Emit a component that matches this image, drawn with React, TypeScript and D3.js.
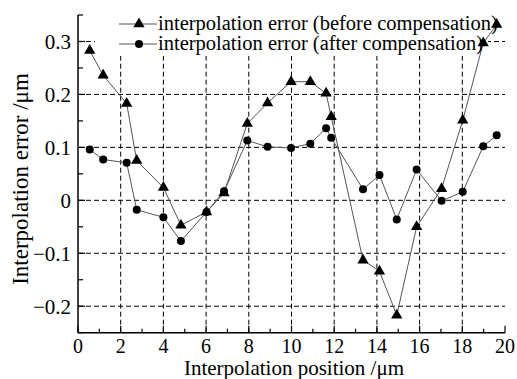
import React from "react";
import * as d3 from "d3";

const positions = [0.55, 1.18, 2.28, 2.75, 4.0, 4.82, 6.02, 6.84, 7.93, 8.88, 9.98, 10.88, 11.62, 11.86, 13.35, 14.12, 14.93, 15.86, 17.03, 18.02, 18.98, 19.61];
const beforeComp = [0.283, 0.236, 0.183, 0.075, 0.024, -0.047, -0.022, 0.014, 0.145, 0.184, 0.224, 0.224, 0.202, 0.158, -0.113, -0.134, -0.217, -0.050, 0.022, 0.151, 0.297, 0.332];
const afterComp = [0.096, 0.077, 0.071, -0.018, -0.032, -0.077, -0.022, 0.017, 0.113, 0.101, 0.099, 0.107, 0.136, 0.118, 0.021, 0.048, -0.036, 0.058, -0.001, 0.016, 0.102, 0.123];
const xTicks = [0, 2, 4, 6, 8, 10, 12, 14, 16, 18, 20];
const yTicks = [-0.2, -0.1, 0, 0.1, 0.2, 0.3];
const xGrid = [2, 4, 6, 8, 10, 12, 14, 16, 18];
const legendLabels = ["interpolation error (before compensation)", "interpolation error (after compensation)"];

const W = 517, H = 379;
const L = 78, R = 505, T = 15, B = 332.7;
const FONT = "'Liberation Serif', 'Times New Roman', serif";

export default function App() {
  const x = d3.scaleLinear().domain([0, 20]).range([L, R]);
  const y = d3.scaleLinear().domain([-0.25, 0.35]).range([B, T]);
  const line = d3.line<[number, number]>().x((d) => x(d[0])).y((d) => y(d[1]));
  const before: [number, number][] = positions.map((p, i) => [p, beforeComp[i]]);
  const after: [number, number][] = positions.map((p, i) => [p, afterComp[i]]);
  const tri = d3.symbol().type(d3.symbolTriangle).size(55)();
  const minorX = d3.range(0, 21, 1);
  const minorY = d3.range(-0.25, 0.351, 0.05);
  const fmt = (v: number) => (v === 0 ? "0" : (v < 0 ? "\u2212" : "") + Math.abs(v).toFixed(1));

  return (
    <svg width={W} height={H} style={{ position: "absolute", left: 0, top: 0, background: "#fff" }} fontFamily={FONT}>
      <rect x={0} y={0} width={W} height={H} fill="#fff" />
      {/* grid */}
      {xGrid.map((v) => (
        <line key={"gx" + v} x1={x(v)} x2={x(v)} y1={B} y2={T} stroke="#000" strokeWidth={1} strokeDasharray="5,3" />
      ))}
      {yTicks.map((v) => (
        <line key={"gy" + v} x1={L} x2={R} y1={y(v)} y2={y(v)} stroke="#000" strokeWidth={1} strokeDasharray="5,3" />
      ))}
      {/* legend background */}
      <rect x={95} y={3} width={393} height={53} fill="#fff" />
      {/* axes */}
      <line x1={L} x2={L} y1={T} y2={B} stroke="#000" strokeWidth={1.5} />
      <line x1={L} x2={R} y1={B} y2={B} stroke="#000" strokeWidth={1.5} />
      {minorX.map((v) => (
        <line key={"tx" + v} x1={x(v)} x2={x(v)} y1={B} y2={B - (v % 2 === 0 ? 7 : 4)} stroke="#000" strokeWidth={1.2} />
      ))}
      {minorY.map((v, i) => (
        <line key={"ty" + i} x1={L} x2={L + (i % 2 === 1 ? 7 : 5)} y1={y(v)} y2={y(v)} stroke="#000" strokeWidth={1.2} />
      ))}
      {xTicks.map((v) => (
        <text key={"lx" + v} x={x(v)} y={352.5} textAnchor="middle" fontSize={20}>{v}</text>
      ))}
      {yTicks.map((v) => (
        <text key={"ly" + v} x={71} y={y(v)} dy="0.35em" textAnchor="end" fontSize={21}>{fmt(v)}</text>
      ))}
      {/* axis titles */}
      <text x={294} y={374.5} textAnchor="middle" fontSize={21}>Interpolation position /μm</text>
      <text transform={`translate(28,179) rotate(-90)`} textAnchor="middle" fontSize={23}>Interpolation error /μm</text>
      {/* series */}
      <path d={line(before) || ""} fill="none" stroke="#555" strokeWidth={1} />
      <path d={line(after) || ""} fill="none" stroke="#555" strokeWidth={1} />
      {before.map((d, i) => (
        <path key={"b" + i} d={tri || ""} transform={`translate(${x(d[0])},${y(d[1])})`} fill="#000" />
      ))}
      {after.map((d, i) => (
        <circle key={"a" + i} cx={x(d[0])} cy={y(d[1])} r={4} fill="#000" />
      ))}
      {/* legend */}
      {legendLabels.map((lab, i) => {
        const ly = 24 + i * 20;
        return (
          <g key={"lg" + i}>
            <line x1={119} x2={157} y1={ly} y2={ly} stroke="#555" strokeWidth={1} />
            {i === 0 ? (
              <path d={tri || ""} transform={`translate(139,${ly})`} fill="#000" />
            ) : (
              <circle cx={139} cy={ly} r={4} fill="#000" />
            )}
            <text x={158} y={ly + 6} fontSize={20.5}>{lab}</text>
          </g>
        );
      })}
    </svg>
  );
}
